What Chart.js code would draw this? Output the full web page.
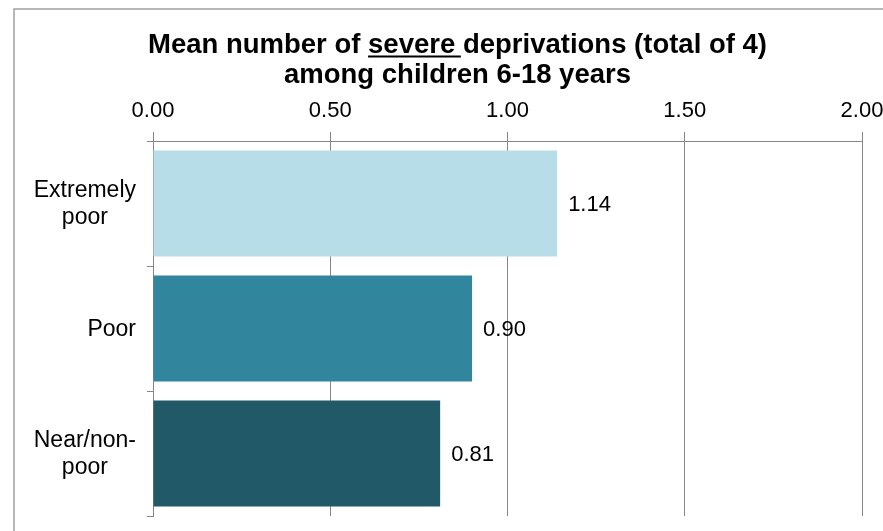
<!DOCTYPE html>
<html><head><meta charset="utf-8">
<script src="https://cdn.jsdelivr.net/npm/chart.js@4.4.0/dist/chart.umd.min.js"></script>
<style>html,body{margin:0;padding:0;background:#fff;}#wrap{width:883px;height:531px;position:relative;}</style>
</head><body><div id="wrap"><canvas id="c" width="883" height="531"></canvas></div>
<script>
const categories = [["Extremely", "poor"], ["Poor"], ["Near/non-", "poor"]];
const values = [1.14, 0.90, 0.81];
const barColors = ["#b7dde8", "#31859c", "#215968"];
const xMin = 0, xMax = 2, xStep = 0.5;
const titleLine1 = ["Mean number of ", "severe ", "deprivations (total of 4)"];
const titleLine2 = "among children 6-18 years";

const FONT = '"Liberation Sans", Arial, sans-serif';
const GRID = '#868686';

const framePlugin = {
  id: 'frame',
  beforeDraw(chart) {
    const ctx = chart.ctx;
    ctx.save();
    ctx.fillStyle = '#fff';
    ctx.fillRect(0, 0, chart.width, chart.height);
    ctx.strokeStyle = '#a0a0a0';
    ctx.lineWidth = 1.5;
    ctx.strokeRect(14, 9, 1000, 1000);
    ctx.restore();
  }
};

const titlePlugin = {
  id: 'ttl',
  afterDraw(chart) {
    const ctx = chart.ctx;
    ctx.save();
    ctx.font = 'bold 27px ' + FONT;
    ctx.fillStyle = '#000';
    ctx.textBaseline = 'alphabetic';
    ctx.textAlign = 'left';
    const full1 = titleLine1.join('');
    const w1 = ctx.measureText(full1).width;
    const sx = 619 / w1;
    const cx = 457.5;
    ctx.translate(cx, 0);
    ctx.scale(sx, 1);
    let x = -w1 / 2;
    titleLine1.forEach((part, i) => {
      const w = ctx.measureText(part).width;
      ctx.fillText(part, x, 53);
      if (i === 1) {
        ctx.fillRect(x, 55.5, w - 2, 2);
      }
      x += w;
    });
    const w2 = ctx.measureText(titleLine2).width;
    ctx.fillText(titleLine2, -w2 / 2, 83);
    ctx.restore();
  }
};

const yLabelPlugin = {
  id: 'ylab',
  afterDraw(chart) {
    const ctx = chart.ctx;
    const ys = chart.scales.y;
    ctx.save();
    ctx.font = '23px ' + FONT;
    ctx.fillStyle = '#000';
    ctx.textBaseline = 'middle';
    ctx.textAlign = 'center';
    const right = 136;
    const lh = 27;
    categories.forEach((lines, i) => {
      const yp = ys.getPixelForValue(i);
      const bw = Math.max(...lines.map(l => ctx.measureText(l).width));
      lines.forEach((l, j) => {
        ctx.fillText(l, right - bw / 2, yp + (j - (lines.length - 1) / 2) * lh + 1);
      });
    });
    ctx.restore();
  }
};

const valuePlugin = {
  id: 'vals',
  afterDatasetsDraw(chart) {
    const ctx = chart.ctx;
    const meta = chart.getDatasetMeta(0);
    ctx.save();
    ctx.font = '22px ' + FONT;
    ctx.fillStyle = '#000';
    ctx.textBaseline = 'middle';
    ctx.textAlign = 'left';
    meta.data.forEach((el, i) => {
      ctx.fillText(values[i].toFixed(2), el.x + 11, el.y + 1);
    });
    ctx.restore();
  }
};

new Chart(document.getElementById('c'), {
  type: 'bar',
  data: {
    labels: categories,
    datasets: [{
      data: values,
      backgroundColor: barColors,
      borderWidth: 0,
      barPercentage: 0.848,
      categoryPercentage: 1.0
    }]
  },
  options: {
    indexAxis: 'y',
    responsive: false,
    animation: false,
    devicePixelRatio: 1,
    layout: { padding: { top: 101, left: 113, right: 21, bottom: 15 } },
    plugins: { legend: { display: false }, title: { display: false }, tooltip: { enabled: false } },
    scales: {
      x: {
        type: 'linear',
        position: 'top',
        min: xMin, max: xMax,
        ticks: {
          stepSize: xStep,
          callback: v => Number(v).toFixed(2),
          font: { family: FONT, size: 22 },
          color: '#000',
          padding: 8,
          maxRotation: 0
        },
        grid: { color: GRID, lineWidth: 1, tickLength: 9, drawOnChartArea: true },
        border: { display: true, color: GRID, width: 1 },
        afterFit(s) { s.height = 40; s.paddingRight = 0; s.paddingLeft = 0; }
      },
      y: {
        type: 'category',
        ticks: { display: false },
        grid: { color: GRID, lineWidth: 1, tickLength: 6, drawOnChartArea: false, offset: true },
        border: { display: true, color: GRID, width: 1 },
        afterFit(s) { s.width = 40; s.paddingTop = 0; s.paddingBottom = 0; }
      }
    }
  },
  plugins: [framePlugin, titlePlugin, yLabelPlugin, valuePlugin]
});
</script></body></html>
